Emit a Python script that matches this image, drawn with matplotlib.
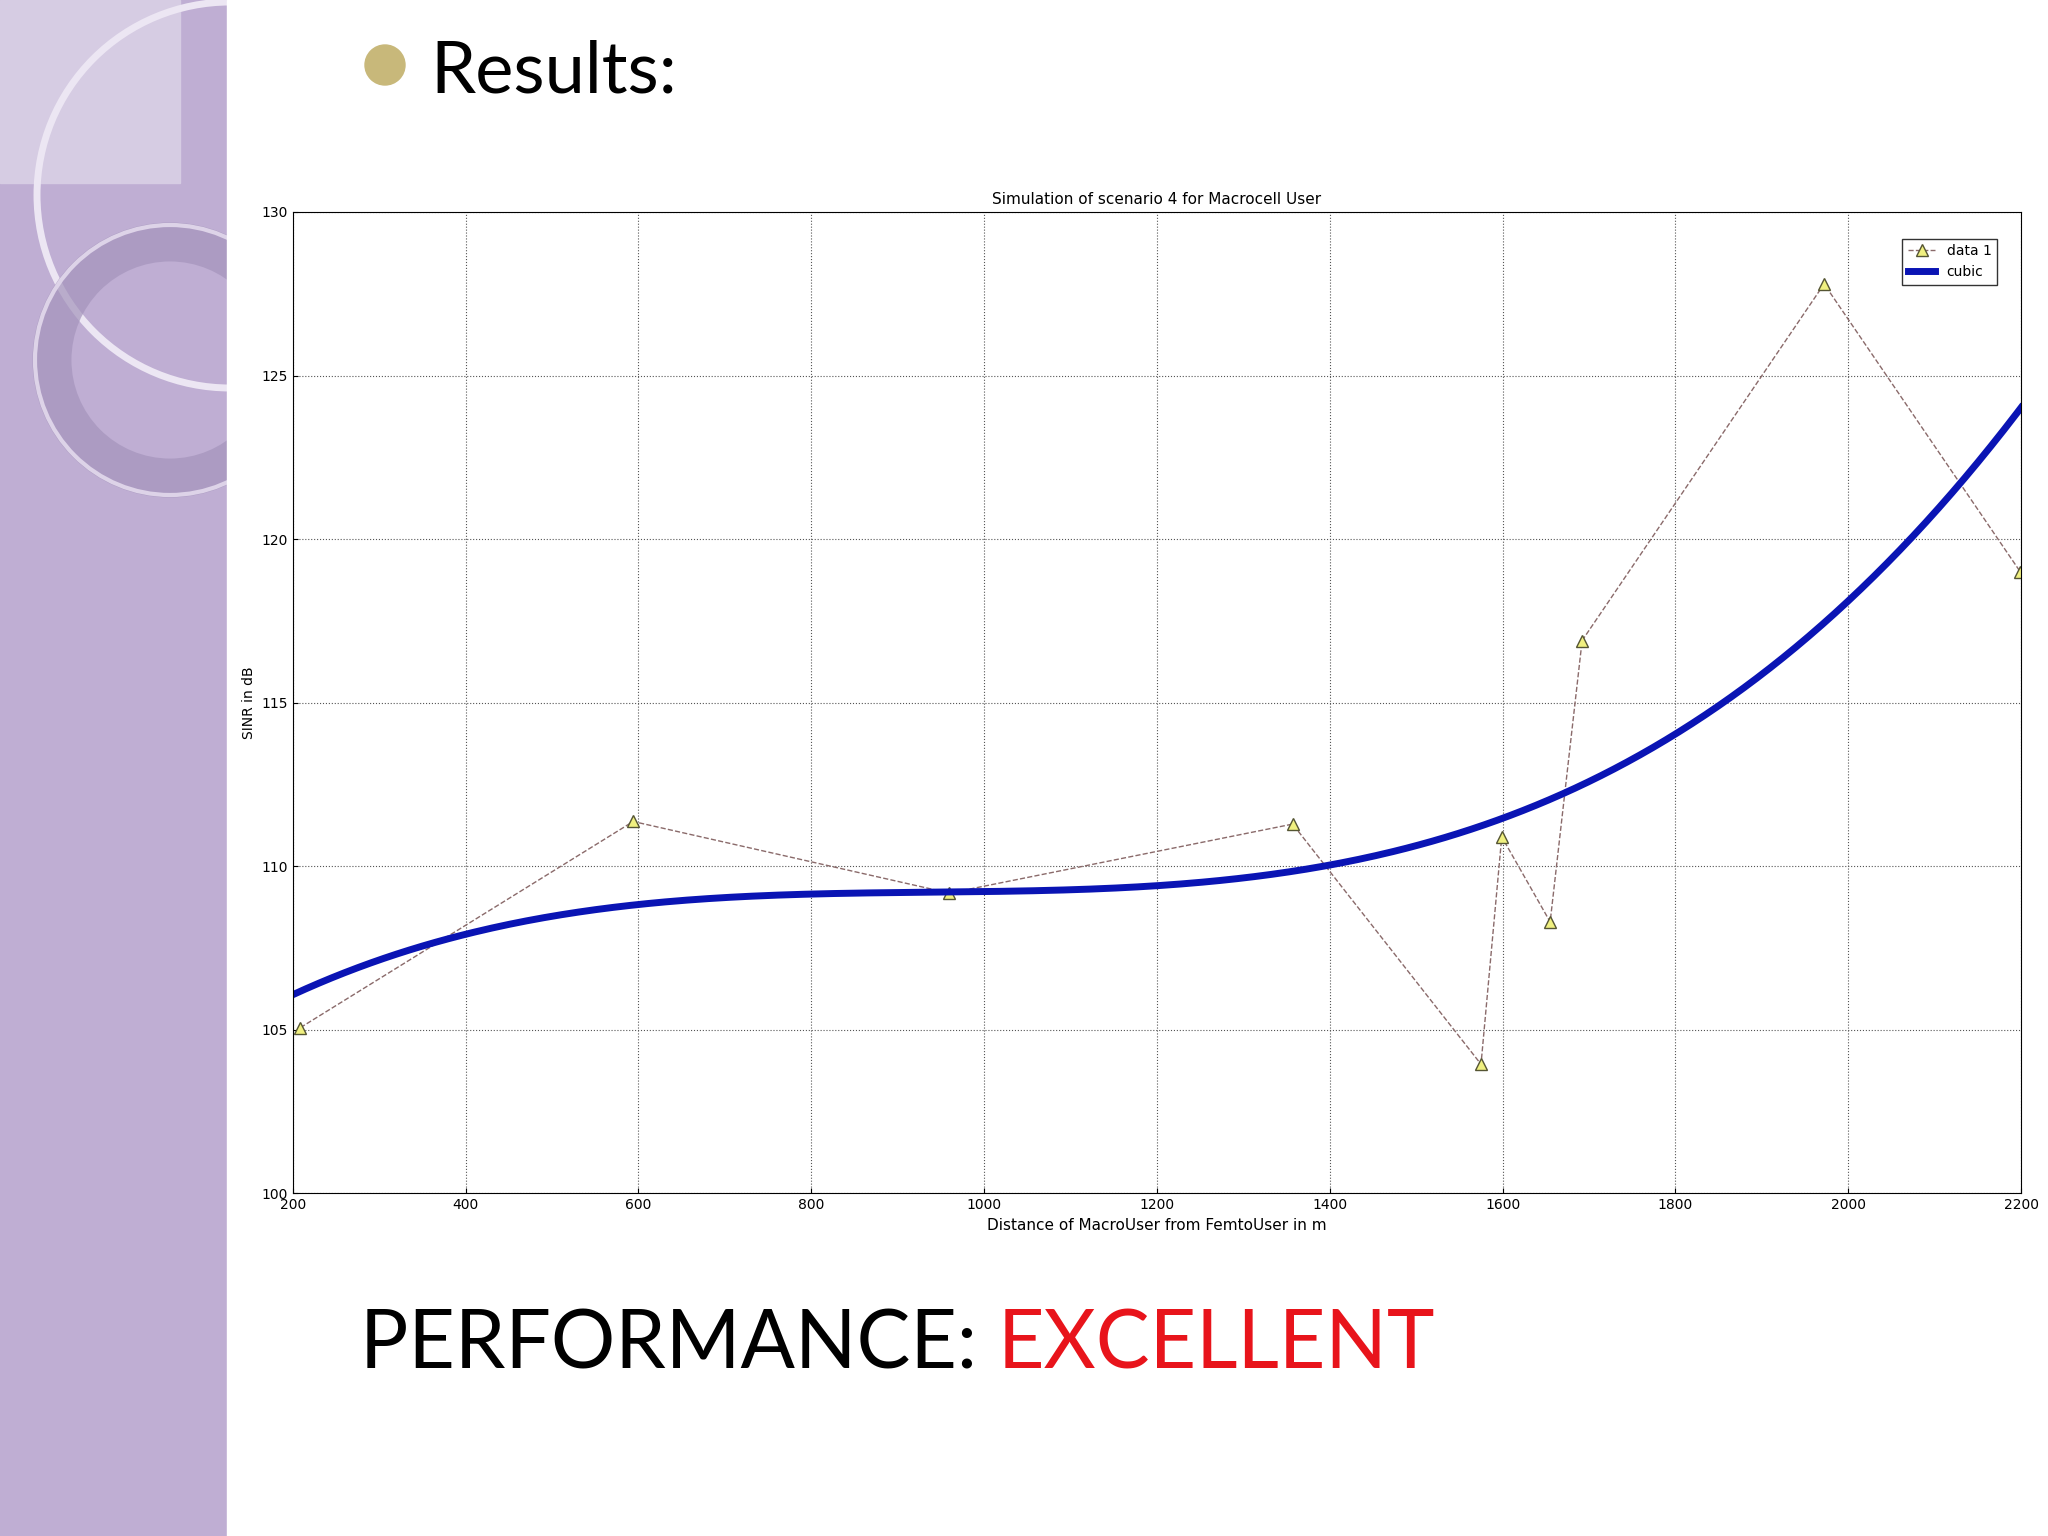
import numpy as np
import matplotlib
matplotlib.use("Agg")
import matplotlib.pyplot as plt
from matplotlib.patches import Rectangle, Circle

data_x = [209, 594, 960, 1357, 1575, 1599, 1655, 1692, 1972, 2199]
data_y = [105.07, 111.37, 109.18, 111.29, 103.95, 110.9, 108.3, 116.9, 127.8, 119.0]
curve_x = [200, 400, 600, 800, 1000, 1200, 1400, 1600, 1800, 2000, 2200]
curve_y = [106.1, 107.9, 108.8, 109.1, 109.3, 109.5, 110.0, 111.4, 114.0, 118.2, 124.0]
xticks = [200, 400, 600, 800, 1000, 1200, 1400, 1600, 1800, 2000, 2200]
yticks = [100, 105, 110, 115, 120, 125, 130]

fig = plt.figure(figsize=(20.48, 15.36), dpi=100)
fig.patch.set_facecolor("white")

ax_bg = fig.add_axes([0, 0, 1, 1])
ax_bg.set_xlim(0, 2048); ax_bg.set_ylim(1536, 0); ax_bg.axis("off")
ax_bg.add_patch(Rectangle((0, 0), 227, 1536, color="#bfaed3"))
ax_bg.add_patch(Rectangle((0, 0), 180, 183, color="#d6cce3"))
ax_bg.add_patch(Circle((230, 195), 193, fill=False, ec="#ece6f3", lw=5))
ax_bg.add_patch(Circle((170, 360), 118, fill=False, ec="#a494bb", lw=28, alpha=0.7))
ax_bg.add_patch(Circle((170, 360), 135, fill=False, ec="#ddd3e8", lw=3))
ax_bg.add_patch(Rectangle((227, 0), 1821, 1536, color="white"))
ax_bg.add_patch(Circle((385, 65), 20, color="#c8b87a"))

fig.text(0.21, 0.953, "Results:", fontsize=52, family="Lato", va="center", ha="left")
fig.text(0.176, 0.124, "PERFORMANCE: ", fontsize=58, family="Lato", va="center", ha="left")
t = fig.text(0.176, 0.124, "PERFORMANCE: ", fontsize=58, family="Lato", va="center", ha="left", alpha=0)
fig.canvas.draw()
bb = t.get_window_extent()
fig.text(bb.x1 / fig.bbox.width, 0.124, "EXCELLENT", fontsize=58, family="Lato", va="center", ha="left", color="#e8141b")

ax = fig.add_axes([0.1429, 0.223, 0.844, 0.639])
ax.plot(data_x, data_y, "--", color="#8a6a6a", lw=1, marker="^", mfc="#f0f080", mec="#555533", ms=8, label="data 1")
coef = np.polyfit(curve_x, curve_y, 3)
xs = np.linspace(200, 2200, 400)
ax.plot(xs, np.polyval(coef, xs), color="#0a14b4", lw=5, label="cubic")
ax.set_xlim(200, 2200); ax.set_ylim(100, 130)
ax.set_xticks(xticks); ax.set_yticks(yticks)
ax.tick_params(labelsize=10, direction="in")
ax.grid(True, linestyle=":", color="#555555", lw=0.8)
ax.set_title("Simulation of scenario 4 for Macrocell User", fontsize=11)
ax.set_xlabel("Distance of MacroUser from FemtoUser in m", fontsize=11)
ax.set_ylabel("SINR in dB", fontsize=10)
ax.legend(loc="upper right", fontsize=10, fancybox=False, edgecolor="black", bbox_to_anchor=(0.99, 0.98))
fig.savefig("out.png", dpi=100)
